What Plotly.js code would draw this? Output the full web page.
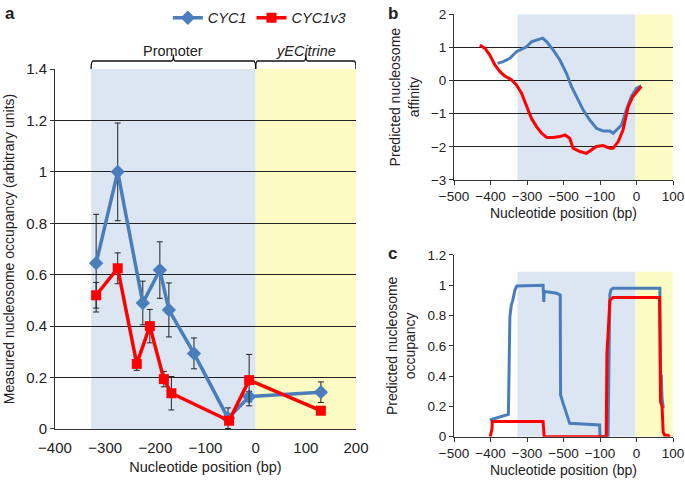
<!DOCTYPE html>
<html>
<head>
<meta charset="utf-8">
<script src="https://cdn.plot.ly/plotly-3.0.1.min.js"></script>
<style>
  body{margin:0;background:#fff;}
  #chart{width:685px;height:482px;}
</style>
</head>
<body>
<div id="chart"></div>
<script>
// panel a : measured occupancy
const posA_cyc1 = [-318, -275, -225, -191, -173, -123, -55, -13, 130];
const occA_cyc1 = [0.645, 1.0, 0.49, 0.618, 0.463, 0.294, 0.042, 0.126, 0.143];
const errA_cyc1 = [0.19, 0.19, 0.085, 0.11, 0.105, 0.06, 0.04, 0.02, 0.04];
const posA_v3 = [-318, -275, -237, -211, -183, -168, -53, -13, 130];
const occA_v3 = [0.52, 0.625, 0.253, 0.40, 0.194, 0.139, 0.032, 0.19, 0.071];
const errA_v3 = [0.05, 0.06, 0.025, 0.065, 0.03, 0.065, 0, 0.1, 0];

// panel b : predicted affinity
const posB_cyc1 = [-381, -365, -347, -329, -320, -301, -288, -274, -257, -246, -228, -210, -192, -178, -165, -146, -128, -110, -92, -73, -64, -55, -41, -28, -14, 0, 13];
const affB_cyc1 = [0.52, 0.57, 0.67, 0.87, 0.92, 1.02, 1.17, 1.23, 1.28, 1.17, 0.92, 0.62, 0.22, -0.18, -0.48, -0.89, -1.19, -1.44, -1.52, -1.52, -1.59, -1.49, -1.34, -0.89, -0.48, -0.23, -0.16];
const posB_v3 = [-429, -415, -402, -388, -374, -361, -342, -329, -315, -301, -288, -274, -260, -246, -228, -210, -196, -183, -174, -155, -137, -123, -110, -92, -73, -64, -50, -37, -23, -10, 4, 13];
const affB_v3 = [1.07, 0.97, 0.77, 0.47, 0.27, 0.14, 0.02, -0.13, -0.38, -0.79, -1.14, -1.39, -1.59, -1.72, -1.72, -1.69, -1.64, -1.74, -2.04, -2.14, -2.2, -2.09, -1.99, -1.96, -2.04, -2.04, -1.84, -1.49, -0.79, -0.48, -0.28, -0.18];

// panel c : predicted occupancy
const posC_cyc1 = [-402, -351, -347, -343, -339, -333, -328, -256, -254, -253, -247, -219, -209, -208, -201, -187, -183, -101, -100, -78, -76, -75, -73, -70, -64, 64, 66, 68, 70, 73, 77];
const occC_cyc1 = [0.11, 0.147, 0.79, 0.87, 0.90, 0.97, 0.995, 1.0, 0.89, 0.96, 0.957, 0.947, 0.936, 0.275, 0.22, 0.12, 0.088, 0.077, 0, 0, 0.57, 0.62, 0.94, 0.97, 0.98, 0.98, 0.4, 0.41, 0.25, 0.2, 0.2];
const posC_v3 = [-401, -396, -395, -256, -253, -83, -81, -79, -77, -73, -64, 63, 66, 70, 73, 77, 86, 91];
const occC_v3 = [0, 0.05, 0.1, 0.1, 0, 0, 0.55, 0.69, 0.72, 0.9, 0.92, 0.92, 0.23, 0.2, 0.03, 0.01, 0.01, 0];

// shaded regions [start, end]
const promoter = [-328, 0];
const citrine = [0, 200];
const promoterBC = [-326, -3];
const citrineBC = [-3, 100];

const blue = '#4a7ebb';
const red = '#ff0000';
const shadeBlue = 'rgb(220,230,242)';
const shadeYellow = 'rgb(252,251,196)';
const font = 'Liberation Sans, Arial, sans-serif';

let traces = [
  {x: posA_cyc1, y: occA_cyc1, type: 'scatter', mode: 'lines+markers', name: '<i>CYC1</i>',
   line: {color: blue, width: 3.5}, marker: {symbol: 'diamond', size: 11, color: blue},
   error_y: {type: 'data', array: errA_cyc1, color: '#222', thickness: 1, width: 3},
   xaxis: 'x', yaxis: 'y'},
  {x: posA_v3, y: occA_v3, type: 'scatter', mode: 'lines+markers', name: '<i>CYC1v3</i>',
   line: {color: red, width: 3.5}, marker: {symbol: 'square', size: 10, color: red},
   error_y: {type: 'data', array: errA_v3, color: '#222', thickness: 1, width: 3},
   xaxis: 'x', yaxis: 'y'},
  {x: posB_cyc1, y: affB_cyc1, type: 'scatter', mode: 'lines', showlegend: false,
   line: {color: blue, width: 3}, xaxis: 'x2', yaxis: 'y2'},
  {x: posB_v3, y: affB_v3, type: 'scatter', mode: 'lines', showlegend: false,
   line: {color: red, width: 3}, xaxis: 'x2', yaxis: 'y2'},
  {x: posC_cyc1, y: occC_cyc1, type: 'scatter', mode: 'lines', showlegend: false,
   line: {color: blue, width: 3}, xaxis: 'x3', yaxis: 'y3'},
  {x: posC_v3, y: occC_v3, type: 'scatter', mode: 'lines', showlegend: false,
   line: {color: red, width: 3}, xaxis: 'x3', yaxis: 'y3'}
];

function rect(xr, yr, x0, x1, y0, y1, col){
  return {type: 'rect', xref: xr, yref: yr, x0: x0, x1: x1, y0: y0, y1: y1,
          fillcolor: col, line: {width: 0}, layer: 'below'};
}

// curly brace above panel a, in x data / paper y
function brace(x0, x1){
  let yb = 0.8568, yl = 0.8734, yt = 0.8870, d = 4;
  let xc = (x0 + x1) / 2;
  return {type: 'path', xref: 'x', yref: 'paper', line: {color: '#111', width: 1.3},
    path: `M${x0},${yb} Q${x0},${yl} ${x0+d},${yl} L${xc-d},${yl} Q${xc},${yl} ${xc},${yt} ` +
          `Q${xc},${yl} ${xc+d},${yl} L${x1-d},${yl} Q${x1},${yl} ${x1},${yb}`};
}

let shapes = [
  rect('x', 'y', promoter[0], promoter[1], 0, 1.4, shadeBlue),
  rect('x', 'y', citrine[0], citrine[1], 0, 1.4, shadeYellow),
  rect('x2', 'y2', promoterBC[0], promoterBC[1], -3, 2, shadeBlue),
  rect('x2', 'y2', citrineBC[0], citrineBC[1], -3, 2, shadeYellow),
  rect('x3', 'y3', promoterBC[0], promoterBC[1], 0, 1.09, shadeBlue),
  rect('x3', 'y3', citrineBC[0], citrineBC[1], 0, 1.09, shadeYellow),
  brace(promoter[0], promoter[1]),
  brace(citrine[0], citrine[1])
];

let annotations = [
  {text: '<b>a</b>', x: 0.005, y: 0.995, xref: 'paper', yref: 'paper', xanchor: 'left', yanchor: 'top', showarrow: false, font: {size: 17}},
  {text: '<b>b</b>', x: 0.563, y: 0.995, xref: 'paper', yref: 'paper', xanchor: 'left', yanchor: 'top', showarrow: false, font: {size: 17}},
  {text: '<b>c</b>', x: 0.563, y: 0.497, xref: 'paper', yref: 'paper', xanchor: 'left', yanchor: 'top', showarrow: false, font: {size: 17}},
  {text: 'Promoter', x: (promoter[0] + promoter[1]) / 2, y: 0.915, xref: 'x', yref: 'paper', showarrow: false, font: {size: 14.5}},
  {text: '<i>yECitrine</i>', x: (citrine[0] + citrine[1]) / 2, y: 0.915, xref: 'x', yref: 'paper', showarrow: false, font: {size: 14.5}}
];

const axisBase = {showline: true, linecolor: '#333', linewidth: 1, ticks: 'outside', ticklen: 4,
  tickcolor: '#333', zeroline: false, automargin: false, tickfont: {size: 14},
  title: {font: {size: 14}}};

let layout = {
  width: 685, height: 482,
  margin: {l: 0, r: 0, t: 0, b: 0},
  paper_bgcolor: '#fff', plot_bgcolor: 'rgba(0,0,0,0)',
  font: {family: font, color: '#222', size: 14},
  showlegend: true,
  legend: {orientation: 'h', x: 0.245, y: 0.963, xanchor: 'left', yanchor: 'middle',
           font: {size: 14.5}, bgcolor: 'rgba(0,0,0,0)', itemwidth: 30},
  xaxis: Object.assign({}, axisBase, {domain: [0.0803, 0.5197], range: [-400, 200], dtick: 100,
    showgrid: false, ticks: '', ticklabelstandoff: 5, tickfont: {size: 15},
    title: {text: 'Nucleotide position (bp)', font: {size: 14.5}, standoff: 6}, anchor: 'y'}),
  yaxis: Object.assign({}, axisBase, {domain: [0.1100, 0.8568], range: [0, 1.4], dtick: 0.2,
    showgrid: true, gridcolor: '#222', gridwidth: 1, anchor: 'x', tickfont: {size: 15},
    title: {text: 'Measured nucleosome occupancy (arbitrary units)', font: {size: 14}, standoff: 8}}),
  xaxis2: Object.assign({}, axisBase, {domain: [0.6628, 0.9825], range: [-500, 100], anchor: 'y2',
    tickvals: [-500, -400, -300, -200, -100, 0, 100],
    ticktext: ['\u2212500', '\u2212400', '\u2212300', '\u2212500', '\u2212100', '0', '100'],
    showgrid: false, tickfont: {size: 13.5},
    title: {text: 'Nucleotide position (bp)', font: {size: 14}, standoff: 5}}),
  yaxis2: Object.assign({}, axisBase, {domain: [0.6266, 0.9703], range: [-3, 2], dtick: 1, anchor: 'x2',
    showgrid: true, gridcolor: '#222', gridwidth: 1, tickfont: {size: 13.5},
    title: {text: 'Predicted nucleosome<br>affinity', font: {size: 14}, standoff: 8}}),
  xaxis3: Object.assign({}, axisBase, {domain: [0.6628, 0.9825], range: [-500, 100], anchor: 'y3',
    tickvals: [-500, -400, -300, -200, -100, 0, 100],
    ticktext: ['\u2212500', '\u2212400', '\u2212300', '\u2212500', '\u2212100', '0', '100'],
    showgrid: false, tickfont: {size: 13.5},
    title: {text: 'Nucleotide position (bp)', font: {size: 14}, standoff: 5}}),
  yaxis3: Object.assign({}, axisBase, {domain: [0.0940, 0.4710], range: [0, 1.2], dtick: 0.2, anchor: 'x3',
    showgrid: false, tickfont: {size: 13.5},
    title: {text: 'Predicted nucleosome<br>occupancy', font: {size: 14}, standoff: 8}}),
  shapes: shapes,
  annotations: annotations
};

Plotly.newPlot('chart', traces, layout, {displayModeBar: false, staticPlot: true});
</script>
</body>
</html>
